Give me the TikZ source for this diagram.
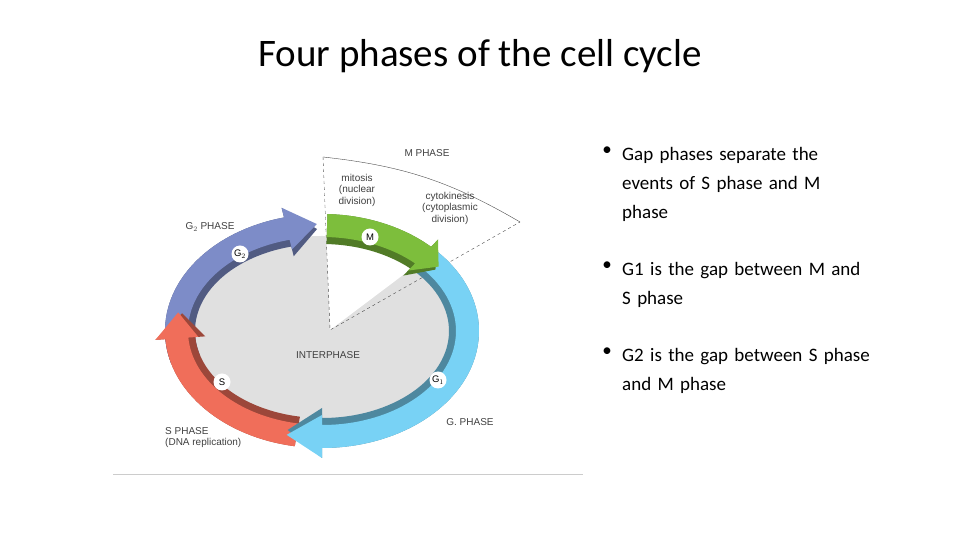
\documentclass[tikz,border=0pt]{standalone}
\usepackage{fontspec}
\setmainfont{Carlito}
\newfontfamily\lab{Liberation Sans}
\definecolor{cG2}{RGB}{125,140,200}
\definecolor{cS}{RGB}{240,110,90}
\definecolor{cG1}{RGB}{120,210,245}
\definecolor{cM}{RGB}{125,190,60}
\begin{document}
\begin{tikzpicture}[x=1pt,y=1pt,
  lbl/.style={font=\lab\fontsize{10}{11.5}\selectfont,text=black!75,align=center,inner sep=0},
  circ/.style={circle,fill=white,minimum size=17,inner sep=0,font=\lab\fontsize{9.5}{10}\selectfont},
  bul/.style={anchor=north west,align=left,text width=250,inner sep=0,font=\fontsize{19}{29}\selectfont},
  dot/.style={anchor=north,inner sep=0,font=\fontsize{19}{29}\selectfont}]
\newcommand\cseg[4]{% t1 t2 t3 colour
  \fill[#4!65!black] (#1:127 and 87) -- (#1:157 and 117) arc[start angle=#1,end angle=#2,x radius=157,y radius=117]
   -- (#2:167 and 127) -- (#3:142 and 102) -- (#2:117 and 77) -- (#2:127 and 87)
   arc[start angle=#2,end angle=#1,x radius=127,y radius=87] -- cycle;
  \fill[#4] (#1:134 and 94) -- (#1:157 and 117) arc[start angle=#1,end angle=#2,x radius=157,y radius=117]
   -- (#2:167 and 127) -- (#3:146 and 107) -- (#2:124 and 84) -- (#2:134 and 94)
   arc[start angle=#2,end angle=#1,x radius=134,y radius=94] -- cycle;}
\useasboundingbox (0,0) rectangle (960,540);
\node[font=\fontsize{39}{42}\selectfont] (title) at (480,484) {Four phases of the cell cycle};
\draw[black!20,line width=1pt] (113,65) -- (583,65);
\fill[black!12] (322,209) ellipse[x radius=135,y radius=95];
\fill[white] (330,210) -- (323,383) arc[start angle=100,end angle=55,x radius=258,y radius=200] -- cycle;
\coordinate (ap) at (330,210);
\coordinate (tp) at (323,383);
\coordinate (rp) at (520,318);
\draw[dashed,black!70] (tp) -- (ap) -- (rp);
\draw[black!70] (tp) to[bend left=12] (rp);
\begin{scope}[shift={(322,209)}]
\cseg{196}{104}{92}{cG2}
\cseg{-100}{-176}{-190}{cS}
\cseg{43}{-90}{-104}{cG1}
\cseg{88}{46}{37}{cM}
\end{scope}
\node[circ] (cm) at (370,303) {M};
\node[circ] (cg2) at (240,286) {G$_2$};
\node[circ] (cs) at (222,158) {S};
\node[circ] (cg1) at (438,160) {G$_1$};
\node[lbl] (mph) at (427,387) {M PHASE};
\node[lbl] (mit) at (357,350) {mitosis\\(nuclear\\division)};
\node[lbl] (cyt) at (450,332) {cytokinesis\\(cytoplasmic\\division)};
\node[lbl] (g2p) at (210,313) {G$_2$ PHASE};
\node[lbl] (inter) at (328,185) {INTERPHASE};
\node[lbl] (g1p) at (470,118) {G. PHASE};
\node[lbl,align=left,anchor=north west] (sp) at (165,113) {S PHASE\\(DNA replication)};
\node[dot] (d1) at (607,393) {•};
\node[bul] (b1) at (622,393) {Gap phases separate the events of S phase and M phase};
\node[dot] (d2) at (607,278) {•};
\node[bul] (b2) at (622,278) {G1 is the gap between M and S phase};
\node[dot] (d3) at (607,192) {•};
\node[bul] (b3) at (622,192) {G2 is the gap between S phase and M phase};
\end{tikzpicture}
\end{document}
